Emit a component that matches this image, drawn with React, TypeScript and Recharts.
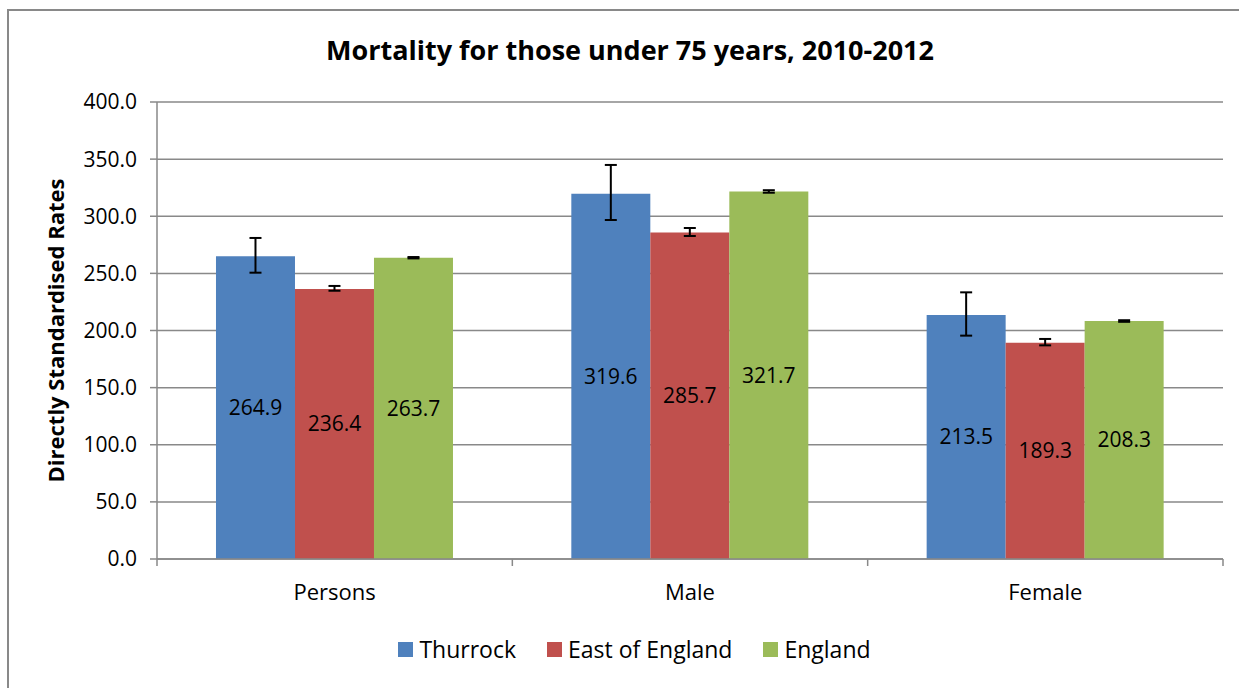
import { BarChart, Bar, XAxis, YAxis, CartesianGrid, ErrorBar, LabelList } from 'recharts'

const categories = ['Persons', 'Male', 'Female']
const thurrock = [264.9, 319.6, 213.5]
const eastOfEngland = [236.4, 285.7, 189.3]
const england = [263.7, 321.7, 208.3]

// confidence intervals [lower, upper]
const thurrockCI = [[250.6, 281.0], [296.7, 344.9], [195.5, 233.4]]
const eastCI = [[234.8, 239.0], [282.7, 289.7], [187.0, 192.6]]
const englandCI = [[263.1, 264.3], [320.6, 322.8], [207.6, 209.0]]

const yTicks = [0, 50, 100, 150, 200, 250, 300, 350, 400]

const series = [
  { key: 'thurrock', name: 'Thurrock', color: '#4F81BD' },
  { key: 'east', name: 'East of England', color: '#C0504D' },
  { key: 'england', name: 'England', color: '#9BBB59' },
]

const toErr = (v: number, ci: number[]) => [+(v - ci[0]).toFixed(2), +(ci[1] - v).toFixed(2)]

const data = categories.map((c, i) => ({
  name: c,
  thurrock: thurrock[i],
  east: eastOfEngland[i],
  england: england[i],
  thurrockErr: toErr(thurrock[i], thurrockCI[i]),
  eastErr: toErr(eastOfEngland[i], eastCI[i]),
  englandErr: toErr(england[i], englandCI[i]),
}))

const FONT = '"Open Sans", "Liberation Sans", sans-serif'
const GRID = '#898989'
const PLOT_LEFT = 157
const PLOT_RIGHT = 1223
const BAND = (PLOT_RIGHT - PLOT_LEFT) / categories.length

function XTick(props: any) {
  const { x, y, payload, index } = props
  return (
    <g>
      <line x1={x - BAND / 2} y1={y} x2={x - BAND / 2} y2={y + 7} stroke={GRID} strokeWidth={1.5} />
      {index === categories.length - 1 && (
        <line x1={x + BAND / 2} y1={y} x2={x + BAND / 2} y2={y + 7} stroke={GRID} strokeWidth={1.5} />
      )}
      <text x={x} y={y + 41} textAnchor="middle" fill="#000" fontSize={22} fontFamily={FONT}>
        {payload.value}
      </text>
    </g>
  )
}

export default function App() {
  return (
    <div style={{ position: 'absolute', left: 0, top: 0, width: 1239, height: 688, overflow: 'hidden', background: '#fff', fontFamily: FONT }}>
      {/* chart frame */}
      <div style={{ position: 'absolute', left: 7, top: 9, width: 1250, height: 700, borderLeft: `2px solid ${GRID}`, borderTop: `2px solid ${GRID}` }} />

      <div style={{ position: 'absolute', left: 0, top: 31, width: 1260, textAlign: 'center', fontSize: 27, fontWeight: 700, color: '#000' }}>
        Mortality for those under 75 years, 2010-2012
      </div>

      <div style={{ position: 'absolute', left: 0, top: 0 }}>
        <BarChart
          width={1239}
          height={688}
          data={data}
          margin={{ top: 102, right: 1239 - PLOT_RIGHT, bottom: 99, left: 0 }}
          barCategoryGap="16.6%"
          barGap={0}
        >
          <CartesianGrid vertical={false} stroke={GRID} strokeWidth={1.5} />
          <XAxis
            dataKey="name"
            height={30}
            axisLine={{ stroke: GRID, strokeWidth: 1.5 }}
            tickLine={false}
            tickSize={0}
            tickMargin={0}
            tick={<XTick />}
            interval={0}
          />
          <YAxis
            width={PLOT_LEFT}
            domain={[0, 400]}
            ticks={yTicks}
            tickFormatter={(v: number) => v.toFixed(1)}
            axisLine={{ stroke: GRID, strokeWidth: 1.5 }}
            tickLine={{ stroke: GRID, strokeWidth: 1.5 }}
            tickSize={7}
            tickMargin={13}
            tick={{ fill: '#000', fontSize: 21, fontFamily: FONT }}
            label={{ value: 'Directly Standardised Rates', angle: -90, position: 'center', dx: -22, fill: '#000', fontSize: 22, fontWeight: 700, fontFamily: FONT }}
          />
          {series.map(s => (
            <Bar key={s.key} dataKey={s.key} name={s.name} fill={s.color} isAnimationActive={false}>
              <ErrorBar dataKey={`${s.key}Err`} width={6} stroke="#000" strokeWidth={2} isAnimationActive={false} />
              <LabelList dataKey={s.key} position="center" fill="#000" fontSize={21} fontFamily={FONT} formatter={(v: any) => Number(v).toFixed(1)} />
            </Bar>
          ))}
        </BarChart>
      </div>

      {/* legend */}
      <div style={{ position: 'absolute', left: 0, top: 633, width: 1300, display: 'flex', justifyContent: 'center', fontSize: 23, color: '#000' }}>
        {series.map(s => (
          <div key={s.key} style={{ display: 'flex', alignItems: 'center', marginRight: 31 }}>
            <span style={{ display: 'inline-block', width: 15, height: 15, background: s.color, marginRight: 6 }} />
            <span>{s.name}</span>
          </div>
        ))}
      </div>
    </div>
  )
}
